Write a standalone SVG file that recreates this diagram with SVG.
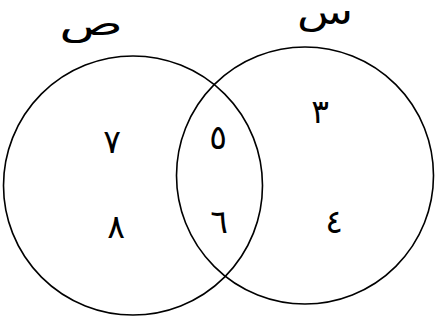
<svg xmlns="http://www.w3.org/2000/svg" width="436" height="321" viewBox="0 0 436 321">
<style>
.c{fill:none;stroke:#000;stroke-width:1.6}
.d{font-family:"DejaVu Sans",sans-serif;font-size:33px;fill:#000;text-anchor:middle}
.l{font-family:"DejaVu Sans",sans-serif;font-size:34px;fill:#000;text-anchor:middle}
</style>
<rect width="436" height="321" fill="#fff"/>
<g id="setY">
<circle class="c" cx="133" cy="185.5" r="129.5"/>
<text class="l" transform="translate(91,35) scale(1.55,1)">ص</text>
</g>
<g id="setX">
<circle class="c" cx="305" cy="175.5" r="128.5"/>
<text class="l" transform="translate(325,24) scale(1.35,1)">س</text>
</g>
<g id="n7"><text class="d" x="112" y="153">٧</text></g>
<g id="n5"><text class="d" x="218" y="149">٥</text></g>
<g id="n3"><text class="d" x="320" y="123">٣</text></g>
<g id="n8"><text class="d" x="116" y="238">٨</text></g>
<g id="n6"><text class="d" x="219" y="233">٦</text></g>
<g id="n4"><text class="d" x="334" y="233">٤</text></g>
</svg>
